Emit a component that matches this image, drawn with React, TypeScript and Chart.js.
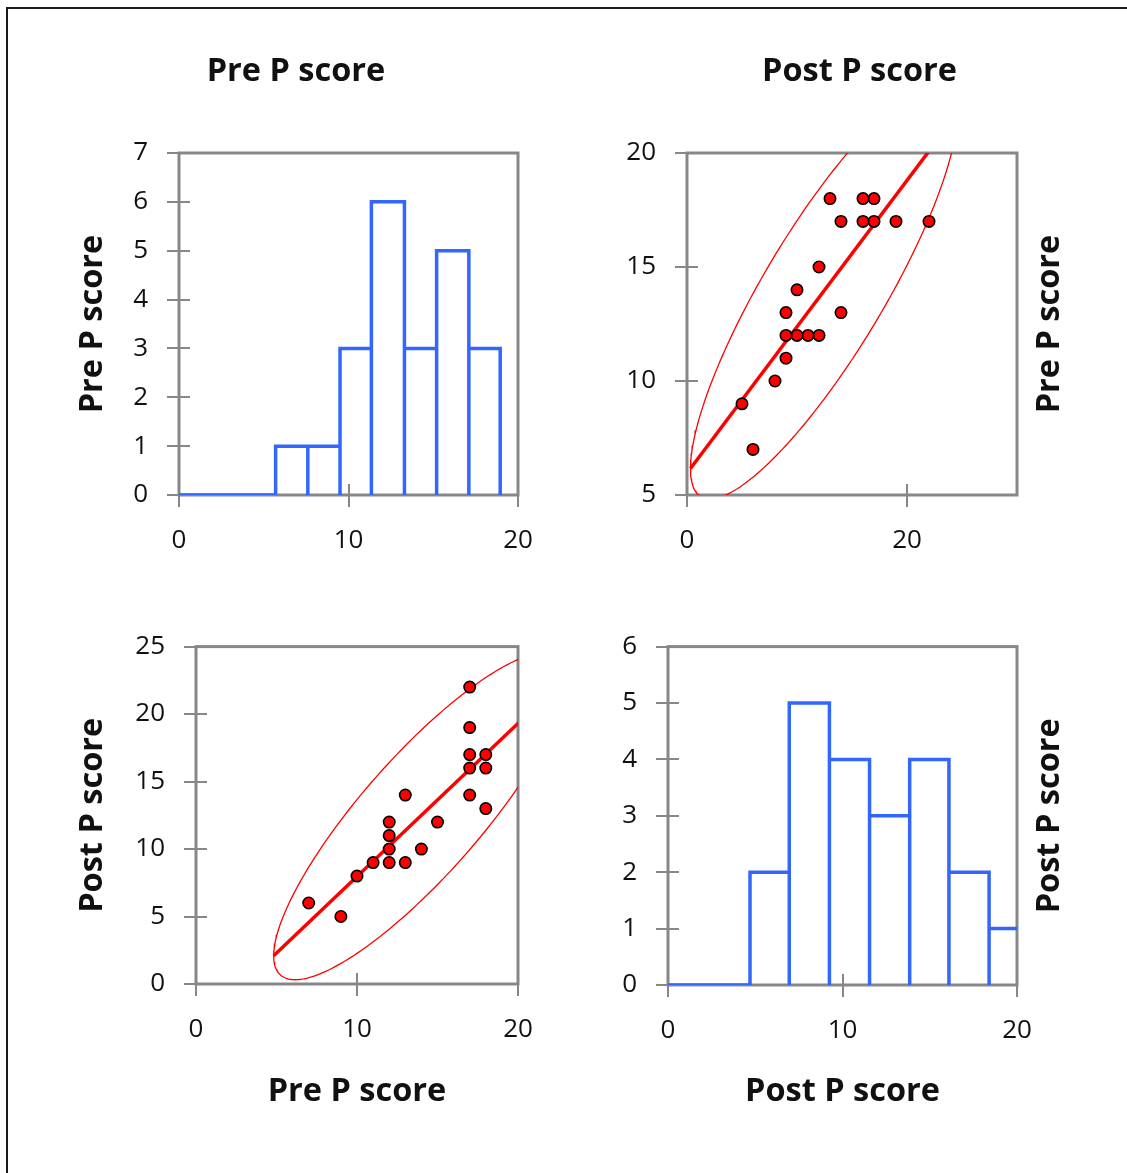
import React, { useEffect, useRef } from "react";
import { Chart, registerables } from "chart.js";

Chart.register(...registerables);

// ---------------- data ----------------
const preScores = [7, 9, 10, 11, 12, 12, 12, 12, 13, 13, 14, 15, 17, 17, 17, 17, 17, 18, 18, 18];
const postScores = [6, 5, 8, 9, 12, 11, 10, 9, 14, 9, 10, 12, 22, 19, 17, 16, 14, 17, 16, 13];

const preBinEdges = [5.7, 7.6, 9.5, 11.35, 13.3, 15.2, 17.1, 18.95];
const preCounts = [1, 1, 3, 6, 3, 5, 3];
const postBinEdges = [4.7, 6.95, 9.25, 11.55, 13.85, 16.1, 18.4, 20.7];
const postCounts = [2, 5, 4, 3, 4, 2, 1];

const preLabel = "Pre P score";
const postLabel = "Post P score";

// confidence-ellipse size (Mahalanobis distance squared)
const ellipseChi2 = 7.5;

// ---------------- styles ----------------
const FONT = "'Open Sans', sans-serif";
const TICK_SIZE = 26;
const TITLE_SIZE = 32.5;
const BLUE = "#3366ff";
const RED = "#ff0000";
const AXIS = "#878787";
const TEXT = "#111111";
const TICK_IN = 11;
const TICK_OUT = 12;

// ---------------- helpers built from the data ----------------
type Pt = { x: number; y: number };

function stats(xs: number[], ys: number[]) {
  const n = xs.length;
  const mx = xs.reduce((s, v) => s + v, 0) / n;
  const my = ys.reduce((s, v) => s + v, 0) / n;
  let vx = 0, vy = 0, cxy = 0;
  for (let i = 0; i < n; i++) {
    vx += (xs[i] - mx) ** 2;
    vy += (ys[i] - my) ** 2;
    cxy += (xs[i] - mx) * (ys[i] - my);
  }
  return { mx, my, vx: vx / (n - 1), vy: vy / (n - 1), cxy: cxy / (n - 1) };
}

function ellipse(xs: number[], ys: number[]): Pt[] {
  const { mx, my, vx, vy, cxy } = stats(xs, ys);
  const k = Math.sqrt(ellipseChi2);
  const l11 = Math.sqrt(vx);
  const l21 = cxy / l11;
  const l22 = Math.sqrt(vy - l21 * l21);
  const pts: Pt[] = [];
  const steps = 240;
  for (let i = 0; i <= steps; i++) {
    const t = (i / steps) * Math.PI * 2;
    const u = Math.cos(t), v = Math.sin(t);
    pts.push({ x: mx + k * l11 * u, y: my + k * (l21 * u + l22 * v) });
  }
  return pts;
}

function regression(xs: number[], ys: number[]): Pt[] {
  const { mx, my, vx, cxy } = stats(xs, ys);
  const slope = cxy / vx;
  const half = Math.sqrt(ellipseChi2 * vx);
  const x0 = mx - half, x1 = mx + half;
  return [
    { x: x0, y: my + slope * (x0 - mx) },
    { x: x1, y: my + slope * (x1 - mx) },
  ];
}

function histOutline(edges: number[], counts: number[], start: number): Pt[] {
  const pts: Pt[] = [{ x: start, y: 0 }, { x: edges[0], y: 0 }];
  counts.forEach((c, i) => {
    pts.push({ x: edges[i], y: c });
    pts.push({ x: edges[i + 1], y: c });
    pts.push({ x: edges[i + 1], y: 0 });
  });
  return pts;
}

function scatterPts(xs: number[], ys: number[]): Pt[] {
  return xs.map((x, i) => ({ x, y: ys[i] }));
}

function histDataset(pts: Pt[]) {
  return {
    data: pts,
    showLine: true,
    borderColor: BLUE,
    borderWidth: 3.5,
    pointRadius: 0,
    fill: false,
    tension: 0,
    borderJoinStyle: "miter",
    yAxisID: "y",
    xAxisID: "x",
  };
}

function scatterDatasets(xs: number[], ys: number[]) {
  return [
    {
      data: scatterPts(xs, ys),
      showLine: false,
      pointRadius: 5.7,
      pointBorderWidth: 1.6,
      pointBorderColor: "#000000",
      pointBackgroundColor: RED,
      yAxisID: "y",
      xAxisID: "x",
    },
    {
      data: regression(xs, ys),
      showLine: true,
      borderColor: RED,
      borderWidth: 3.5,
      pointRadius: 0,
      fill: false,
      yAxisID: "y",
      xAxisID: "x",
    },
    {
      data: ellipse(xs, ys),
      showLine: true,
      borderColor: RED,
      borderWidth: 1.3,
      pointRadius: 0,
      fill: false,
      tension: 0,
      yAxisID: "y",
      xAxisID: "x",
    },
  ];
}

// ---------------- panel layout ----------------
type Panel = {
  canvas: { left: number; top: number; width: number; height: number };
  area: { left: number; top: number; right: number; bottom: number };
  topTitle?: { text: string; y: number };
  leftTitle?: { text: string; x: number };
  rightTitle?: { text: string; x: number };
  bottomTitle?: { text: string; y: number };
  xr: { min: number; max: number; step: number };
  yr: { min: number; max: number; step: number };
  datasets: any[];
};

const panels: Panel[] = [
  {
    canvas: { left: 40, top: 20, width: 512, height: 560 },
    area: { left: 179, top: 153, right: 518, bottom: 495 },
    topTitle: { text: preLabel, y: 72 },
    leftTitle: { text: preLabel, x: 93 },
    xr: { min: 0, max: 20, step: 10 },
    yr: { min: 0, max: 7, step: 1 },
    datasets: [histDataset(histOutline(preBinEdges, preCounts, 0))],
  },
  {
    canvas: { left: 600, top: 20, width: 519, height: 560 },
    area: { left: 687, top: 153, right: 1017, bottom: 495 },
    topTitle: { text: postLabel, y: 72 },
    rightTitle: { text: preLabel, x: 1050 },
    xr: { min: 0, max: 30, step: 20 },
    yr: { min: 5, max: 20, step: 5 },
    datasets: scatterDatasets(postScores, preScores),
  },
  {
    canvas: { left: 40, top: 600, width: 520, height: 540 },
    area: { left: 196, top: 644, right: 518, bottom: 984 },
    leftTitle: { text: postLabel, x: 93 },
    bottomTitle: { text: preLabel, y: 1092 },
    xr: { min: 0, max: 20, step: 10 },
    yr: { min: 0, max: 25, step: 5 },
    datasets: scatterDatasets(preScores, postScores),
  },
  {
    canvas: { left: 590, top: 600, width: 529, height: 540 },
    area: { left: 668, top: 643, right: 1017, bottom: 985 },
    rightTitle: { text: postLabel, x: 1050 },
    bottomTitle: { text: postLabel, y: 1092 },
    xr: { min: 0, max: 20, step: 10 },
    yr: { min: 0, max: 6, step: 1 },
    datasets: [histDataset(histOutline(postBinEdges, postCounts, 0))],
  },
];

const framePlugin = {
  id: "frameTicks",
  beforeDatasetsDraw(chart: any) {
    const { ctx, chartArea: a, scales } = chart;
    const xs = scales.x, ys = scales.y;
    ctx.save();
    ctx.strokeStyle = AXIS;
    ctx.lineWidth = 2;
    ctx.beginPath();
    xs.ticks.forEach((t: any) => {
      const px = Math.round(xs.getPixelForValue(t.value));
      ctx.moveTo(px, a.bottom - TICK_IN);
      ctx.lineTo(px, a.bottom + TICK_OUT);
    });
    ys.ticks.forEach((t: any) => {
      const py = Math.round(ys.getPixelForValue(t.value));
      ctx.moveTo(a.left - TICK_OUT, py);
      ctx.lineTo(a.left + TICK_IN, py);
    });
    ctx.stroke();
    ctx.lineWidth = 3;
    ctx.strokeRect(a.left, a.top, a.right - a.left, a.bottom - a.top);
    ctx.restore();
  },
};

function buildConfig(p: Panel): any {
  const c = p.canvas, a = p.area;
  const cl = c.left, ct = c.top, cr = c.left + c.width, cb = c.top + c.height;
  const lh = TITLE_SIZE * 1.2;
  const titleFont = { family: FONT, size: TITLE_SIZE, weight: "bold", lineHeight: 1.2 };
  const tickFont = { family: FONT, size: TICK_SIZE, lineHeight: 1.2 };

  const rightTitlePlugin = {
    id: "rightTitle",
    afterDraw(chart: any) {
      if (!p.rightTitle) return;
      const ctx = chart.ctx;
      const ca = chart.chartArea;
      ctx.save();
      ctx.translate(p.rightTitle.x - cl, (ca.top + ca.bottom) / 2);
      ctx.rotate(-Math.PI / 2);
      ctx.font = `bold ${TITLE_SIZE}px ${FONT}`;
      ctx.fillStyle = TEXT;
      ctx.textAlign = "center";
      ctx.textBaseline = "middle";
      ctx.fillText(p.rightTitle.text, 0, 0);
      ctx.restore();
    },
  };

  const topPad = p.topTitle ? p.topTitle.y - ct - lh / 2 : 0;

  return {
    type: "scatter",
    data: { datasets: p.datasets },
    options: {
      responsive: false,
      maintainAspectRatio: false,
      animation: false,
      devicePixelRatio: 1,
      events: [],
      layout: { padding: { top: p.topTitle ? 0 : a.top - ct, left: 0, right: 0, bottom: 0 } },
      plugins: {
        legend: { display: false },
        tooltip: { enabled: false },
        title: p.topTitle
          ? {
              display: true,
              text: p.topTitle.text,
              font: titleFont,
              color: TEXT,
              padding: { top: topPad, bottom: a.top - ct - lh - topPad },
            }
          : { display: false },
      },
      scales: {
        x: {
          type: "linear",
          position: "bottom",
          min: p.xr.min,
          max: p.xr.max,
          ticks: {
            stepSize: p.xr.step,
            includeBounds: false,
            autoSkip: false,
            maxRotation: 0,
            padding: 0,
            font: tickFont,
            color: TEXT,
          },
          grid: { display: false, drawTicks: true, tickLength: 30 },
          border: { display: false },
          title: p.bottomTitle
            ? {
                display: true,
                text: p.bottomTitle.text,
                font: titleFont,
                color: TEXT,
                padding: { top: 0, bottom: cb - p.bottomTitle.y - lh / 2 },
              }
            : { display: false },
          afterFit: (s: any) => {
            s.height = cb - a.bottom;
          },
        },
        y: {
          type: "linear",
          position: "left",
          min: p.yr.min,
          max: p.yr.max,
          ticks: {
            stepSize: p.yr.step,
            includeBounds: false,
            autoSkip: false,
            padding: 31,
            font: tickFont,
            color: TEXT,
          },
          grid: { display: false, drawTicks: false },
          border: { display: false },
          title: p.leftTitle
            ? {
                display: true,
                text: p.leftTitle.text,
                font: titleFont,
                color: TEXT,
                padding: { top: p.leftTitle.x - cl - lh / 2, bottom: 0 },
              }
            : { display: false },
          afterFit: (s: any) => {
            s.width = a.left - cl;
          },
        },
        yR: {
          type: "linear",
          position: "right",
          display: true,
          ticks: { display: false },
          grid: { display: false, drawTicks: false },
          border: { display: false },
          afterFit: (s: any) => {
            s.width = cr - a.right;
          },
        },
      },
    },
    plugins: [framePlugin, rightTitlePlugin],
  };
}

function PanelChart({ panel }: { panel: Panel }) {
  const ref = useRef<HTMLCanvasElement>(null);
  useEffect(() => {
    if (!ref.current) return;
    const chart = new Chart(ref.current, buildConfig(panel));
    return () => chart.destroy();
  }, [panel]);
  const c = panel.canvas;
  return (
    <canvas
      ref={ref}
      width={c.width}
      height={c.height}
      style={{ position: "absolute", left: c.left, top: c.top, width: c.width, height: c.height }}
    />
  );
}

export default function App() {
  return (
    <div style={{ position: "absolute", left: 0, top: 0, width: 1127, height: 1173, overflow: "hidden", background: "#ffffff" }}>
      <div
        style={{
          position: "absolute",
          left: 6,
          top: 7,
          width: 1121,
          height: 1166,
          boxSizing: "border-box",
          borderTop: "2px solid #1a1a1a",
          borderLeft: "2px solid #1a1a1a",
        }}
      />
      {panels.map((p, i) => (
        <PanelChart key={i} panel={p} />
      ))}
    </div>
  );
}
